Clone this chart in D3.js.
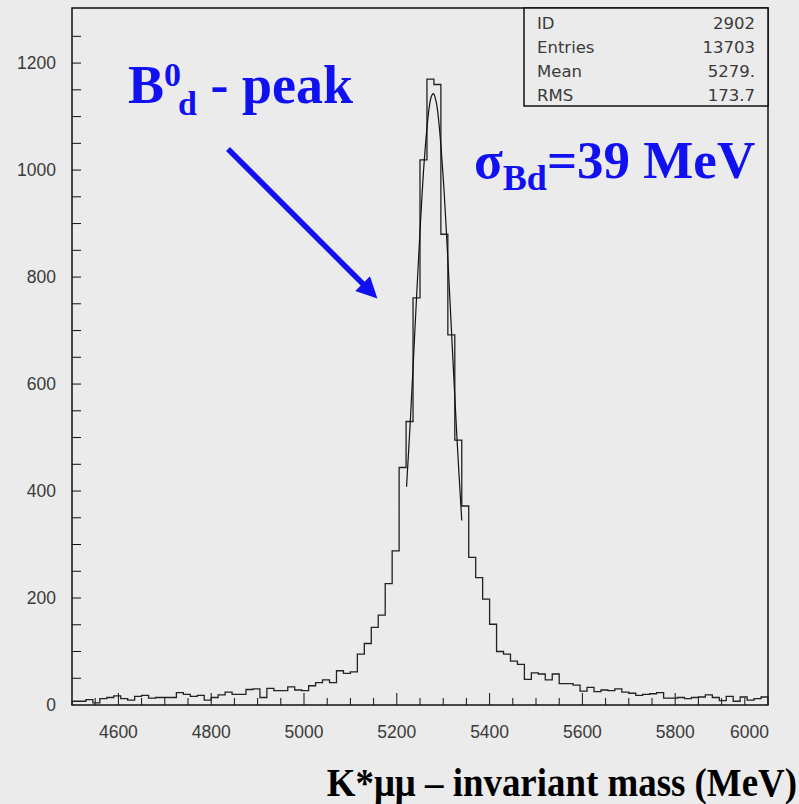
<!DOCTYPE html>
<html>
<head>
<meta charset="utf-8">
<script src="https://cdn.jsdelivr.net/npm/d3@7"></script>
<style>
  html, body { margin: 0; padding: 0; background: #ebebeb; }
  svg { display: block; }
</style>
</head>
<body>
<svg id="chart" width="799" height="804"></svg>
<script>
// ---- data ----
const xStart = 4500;          // MeV, lower edge of first bin
const binWidth = 15;          // MeV
const counts = [
  7, 7, 10, 4, 12, 14, 17, 12, 9, 16,
  18, 13, 14, 14, 14, 23, 20, 16, 18, 9,
  14, 19, 24, 20, 20, 29, 30, 14, 31, 27,
  27, 34, 28, 27, 36, 42, 47, 42, 64, 59,
  62, 95, 115, 145, 168, 227, 288, 444, 530, 761,
  1019, 1170, 1160, 880, 692, 495, 372, 276, 238, 198,
  151, 100, 95, 82, 76, 48, 60, 58, 47, 58,
  40, 40, 37, 26, 33, 25, 28, 27, 30, 24,
  22, 18, 20, 21, 23, 13, 13, 14, 12, 14,
  15, 19, 14, 8, 16, 7, 15, 9, 12, 15
];
const fitMass  = [5221, 5230, 5240, 5250, 5260, 5270, 5275, 5279, 5285, 5290, 5300, 5310, 5320, 5330, 5340];
const fitValue = [408, 545, 718, 886, 1027, 1118, 1139, 1143, 1127, 1095, 986, 834, 662, 493, 345];
const xTickLabels = [4600, 4800, 5000, 5200, 5400, 5600, 5800, 6000];
const yTickLabels = [0, 200, 400, 600, 800, 1000, 1200];
const statsNames  = ["ID", "Entries", "Mean", "RMS"];
const statsValues = ["2902", "13703", "5279.", "173.7"];

// ---- layout ----
const svg = d3.select("#chart");
const L = 72, R = 768, T = 8, B = 705;
const x = d3.scaleLinear().domain([4500, 6000]).range([L, R]);
const y = d3.scaleLinear().domain([0, 1303]).range([B, T]);
const ink = "#111";
const labelColor = "#3a3a3a";
const blue = "#1010f0";
const sans = "Liberation Sans, Arial, sans-serif";

// frame
svg.append("rect").attr("x", L).attr("y", T).attr("width", R - L).attr("height", B - T)
  .attr("fill", "none").attr("stroke", ink).attr("stroke-width", 1.5);

// x ticks (inward)
const xMinor = d3.range(4550, 6000, 50);
svg.append("g").selectAll("line").data(xMinor).join("line")
  .attr("x1", d => x(d)).attr("x2", d => x(d))
  .attr("y1", B).attr("y2", d => (d % 200 === 0) ? B - 12 : B - 7)
  .attr("stroke", ink).attr("stroke-width", 1);
svg.append("g").selectAll("text").data(xTickLabels).join("text")
  .attr("x", d => d === 6000 ? x(d) + 1 : x(d))
  .attr("y", 738)
  .attr("text-anchor", d => d === 6000 ? "end" : "middle")
  .attr("font-family", sans)
  .attr("font-size", 17.5).attr("fill", labelColor)
  .text(d => d);

// y ticks (inward)
const yMinor = d3.range(50, 1300, 50);
svg.append("g").selectAll("line").data(yMinor).join("line")
  .attr("x1", L).attr("x2", L + 9)
  .attr("y1", d => y(d)).attr("y2", d => y(d))
  .attr("stroke", ink).attr("stroke-width", 1);
svg.append("g").selectAll("text").data(yTickLabels).join("text")
  .attr("x", 56).attr("y", d => y(d) + 6)
  .attr("text-anchor", "end")
  .attr("font-family", sans)
  .attr("font-size", 17.5).attr("fill", labelColor)
  .text(d => d);

// histogram
const histPts = [[xStart, 0]];
counts.forEach((c, i) => histPts.push([xStart + i * binWidth, c]));
histPts.push([xStart + counts.length * binWidth, counts[counts.length - 1]]);
histPts.push([xStart + counts.length * binWidth, 0]);
const stepLine = d3.line().x(d => x(d[0])).y(d => y(d[1])).curve(d3.curveStepAfter);
svg.append("path").attr("d", stepLine(histPts))
  .attr("fill", "none").attr("stroke", "#222").attr("stroke-width", 1.3);

// fit curve
const fitLine = d3.line().x((d, i) => x(fitMass[i])).y(d => y(d)).curve(d3.curveCatmullRom);
svg.append("path").attr("d", fitLine(fitValue))
  .attr("fill", "none").attr("stroke", "#111").attr("stroke-width", 1.2);

// stats box
const sb = { x: 524, y: 8, w: 244, h: 98 };
svg.append("rect").attr("x", sb.x).attr("y", sb.y).attr("width", sb.w).attr("height", sb.h)
  .attr("fill", "#ebebeb").attr("stroke", ink).attr("stroke-width", 1.5);
statsNames.forEach((n, i) => {
  svg.append("text").attr("x", 537).attr("y", 29 + i * 24)
    .attr("font-family", "DejaVu Sans, sans-serif").attr("font-size", 16.5)
    .attr("fill", labelColor).text(n);
  svg.append("text").attr("x", 755).attr("y", 29 + i * 24).attr("text-anchor", "end")
    .attr("font-family", "DejaVu Sans, sans-serif").attr("font-size", 16.5)
    .attr("fill", labelColor).text(statsValues[i]);
});

// annotations
const serif = "Liberation Serif, Times New Roman, serif";
const t1 = svg.append("text").attr("x", 128).attr("y", 103)
  .attr("font-family", serif).attr("font-weight", "bold").attr("font-size", 54).attr("fill", blue);
t1.append("tspan").text("B");
t1.append("tspan").attr("font-size", 34).attr("dy", -17).text("0");
t1.append("tspan").attr("font-size", 34).attr("dx", -3).attr("dy", 29).text("d");
t1.append("tspan").attr("dy", -12).text(" - peak");

const t2 = svg.append("text").attr("x", 474).attr("y", 178)
  .attr("font-family", serif).attr("font-weight", "bold").attr("font-size", 53).attr("fill", blue);
t2.append("tspan").text("σ");
t2.append("tspan").attr("font-size", 36).attr("dy", 12).text("Bd");
t2.append("tspan").attr("dy", -12).text("=39 MeV");

// arrow
svg.append("defs").append("marker").attr("id", "ah")
  .attr("viewBox", "0 0 10 10").attr("refX", 5).attr("refY", 5)
  .attr("markerWidth", 4.4).attr("markerHeight", 3.8).attr("orient", "auto")
  .attr("markerUnits", "strokeWidth")
  .append("path").attr("d", "M0,0 L10,5 L0,10 Z").attr("fill", blue);
svg.append("line").attr("x1", 228).attr("y1", 149).attr("x2", 370).attr("y2", 291)
  .attr("stroke", blue).attr("stroke-width", 5.5).attr("marker-end", "url(#ah)");

// x axis title
svg.append("text")
  .attr("transform", "translate(797,796) scale(0.9,1)")
  .attr("text-anchor", "end")
  .attr("font-family", serif).attr("font-weight", "bold").attr("font-size", 41).attr("fill", "#000")
  .text("K*μμ – invariant mass (MeV)");
</script>
</body>
</html>
